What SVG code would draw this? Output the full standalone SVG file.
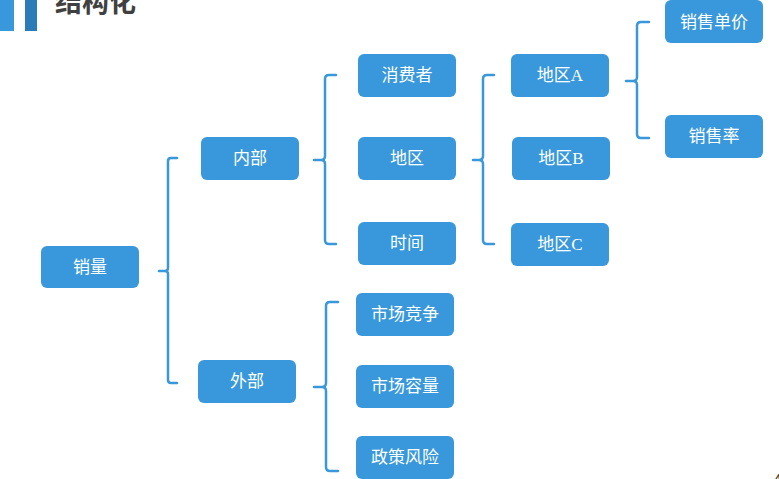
<svg xmlns="http://www.w3.org/2000/svg" width="779" height="479" viewBox="0 0 779 479">
<style>
.box{fill:#3898DB;}
.lbl{fill:#ffffff;font-family:"Liberation Serif","Noto Sans CJK SC",serif;font-size:17px;text-anchor:middle;dominant-baseline:central;}
.br{fill:none;stroke:#3898DB;stroke-width:2.5;stroke-linecap:round;stroke-linejoin:round;}
</style>
<rect x="0" y="0" width="14" height="31" fill="#3898DB"/>
<rect x="25" y="0" width="12" height="31" fill="#2A7CB8"/>
<text x="55" y="12" font-family="'Noto Sans CJK SC',sans-serif" font-weight="bold" font-size="27" fill="#404040">结构化</text>
<g id="connectors">
<path class="br" d="M177,158 H171 Q168,158 168,161 V268 Q168,271 165,271 H159 M165,271 Q168,271 168,274 V380 Q168,383 171,383 H177"/>
<path class="br" d="M336,75 H329 Q325,75 325,79 V156 Q325,160 321,160 H314 M321,160 Q325,160 325,164 V240 Q325,244 329,244 H336"/>
<path class="br" d="M494,75 H487 Q483,75 483,79 V156 Q483,160 479,160 H473 M479,160 Q483,160 483,164 V240 Q483,244 487,244 H494"/>
<path class="br" d="M649,22 H641 Q637,22 637,26 V77 Q637,81 633,81 H626 M633,81 Q637,81 637,85 V134 Q637,138 641,138 H649"/>
<path class="br" d="M338,302 H330 Q326,302 326,306 V383 Q326,387 322,387 H314 M322,387 Q326,387 326,391 V467 Q326,471 330,471 H338"/>
</g>
<g id="n-xiaoliang"><rect class="box" x="41" y="246" width="98" height="42" rx="6"/><text class="lbl" x="90" y="267">销量</text></g>
<g id="n-neibu"><rect class="box" x="201" y="137" width="98" height="43" rx="6"/><text class="lbl" x="250" y="158.5">内部</text></g>
<g id="n-waibu"><rect class="box" x="198" y="360" width="98" height="43" rx="6"/><text class="lbl" x="247" y="381.5">外部</text></g>
<g id="n-xiaofeizhe"><rect class="box" x="358" y="54" width="98" height="43" rx="6"/><text class="lbl" x="407" y="75.5">消费者</text></g>
<g id="n-diqu"><rect class="box" x="358" y="137" width="98" height="43" rx="6"/><text class="lbl" x="407" y="158.5">地区</text></g>
<g id="n-shijian"><rect class="box" x="358" y="222" width="98" height="43" rx="6"/><text class="lbl" x="407" y="243.5">时间</text></g>
<g id="n-diquA"><rect class="box" x="511" y="54" width="98" height="43" rx="6"/><text class="lbl" x="560" y="75.5">地区A</text></g>
<g id="n-diquB"><rect class="box" x="512" y="137" width="98" height="43" rx="6"/><text class="lbl" x="561" y="158.5">地区B</text></g>
<g id="n-diquC"><rect class="box" x="511" y="223" width="98" height="43" rx="6"/><text class="lbl" x="560" y="244.5">地区C</text></g>
<g id="n-danjia"><rect class="box" x="665" y="0" width="98" height="43" rx="6"/><text class="lbl" x="714" y="22">销售单价</text></g>
<g id="n-xiaoshoulv"><rect class="box" x="665" y="115" width="98" height="43" rx="6"/><text class="lbl" x="714" y="136.5">销售率</text></g>
<g id="n-jingzheng"><rect class="box" x="356" y="293" width="98" height="43" rx="6"/><text class="lbl" x="405" y="314.5">市场竞争</text></g>
<g id="n-rongliang"><rect class="box" x="356" y="365" width="98" height="43" rx="6"/><text class="lbl" x="405" y="386.5">市场容量</text></g>
<g id="n-fengxian"><rect class="box" x="356" y="436" width="98" height="43" rx="6"/><text class="lbl" x="405" y="457.5">政策风险</text></g>
<text x="773" y="486" font-family="'Liberation Sans',sans-serif" font-size="16" fill="#404040">4</text>
</svg>
